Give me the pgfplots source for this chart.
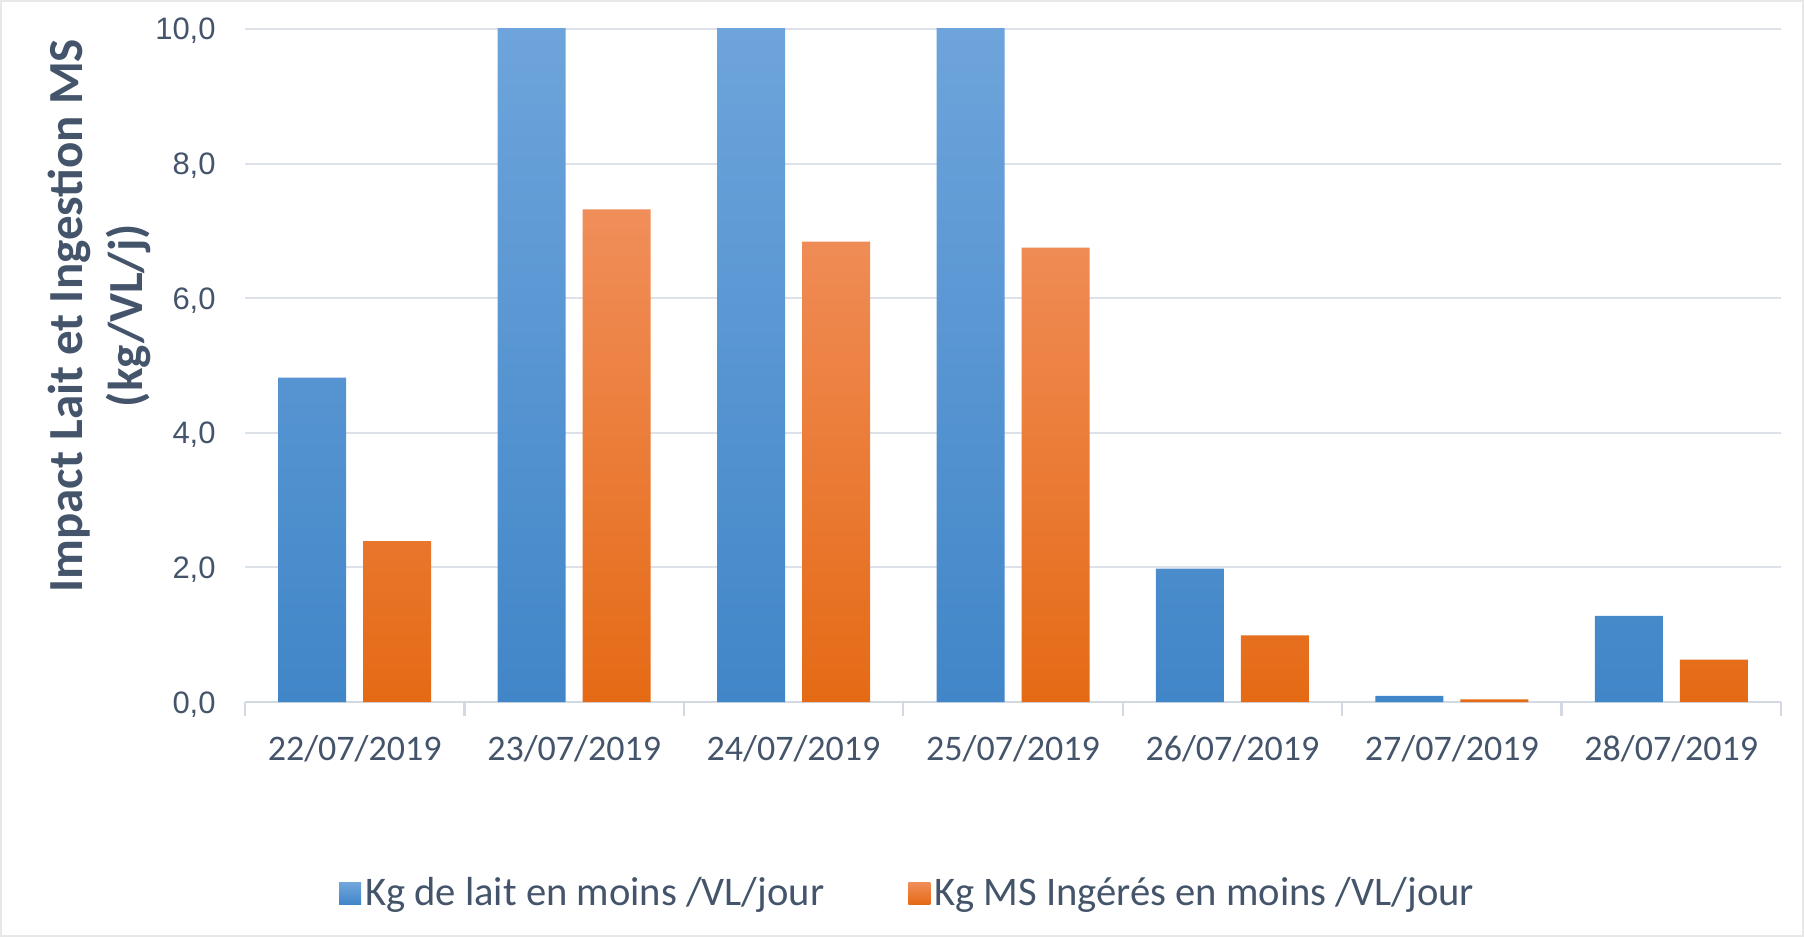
\documentclass[border=0pt]{standalone}
\usepackage{fontspec}
\setmainfont{Carlito}
\newfontfamily\tickfont{Liberation Sans}
\usepackage{pgfplots}
\pgfplotsset{compat=1.18}
\definecolor{txt}{HTML}{44546A}
\definecolor{bluetop}{HTML}{72A7DD}
\definecolor{bluebot}{HTML}{4186C8}
\definecolor{orgtop}{HTML}{F08E5A}
\definecolor{orgbot}{HTML}{E56A15}
\definecolor{gridc}{HTML}{DDE2EA}
\definecolor{axisc}{HTML}{D3D9E2}
\begin{document}
\begin{tikzpicture}
\draw[color=gray!18, line width=1pt] (0.5pt,0.5pt) rectangle (901.5pt,468pt);
\begin{axis}[
  at={(122.5pt,117.5pt)}, anchor=south west,
  scale only axis, width=768pt, height=336.5pt,
  ybar=8.5pt, bar width=34pt,
  xmin=-0.5, xmax=6.5, ymin=0, ymax=10,
  xtick={0,...,6},
  xticklabels={22/07/2019,23/07/2019,24/07/2019,25/07/2019,26/07/2019,27/07/2019,28/07/2019},
  minor xtick={-0.5,0.5,...,6.5},
  major tick length=0pt, minor tick length=7pt, tick align=outside,
  minor x tick style={draw=axisc, line width=1.2pt},
  ytick={0,2,...,10},
  ymajorgrids, grid style={draw=gridc, line width=1pt},
  axis x line*=bottom, axis y line*=left,
  x axis line style={draw=axisc, line width=1.2pt, -},
  y axis line style={draw=none},
  xticklabel style={font=\fontsize{18}{20}\selectfont, text=txt, anchor=base, inner sep=0pt, yshift=-29pt},
  yticklabel style={font=\tickfont\fontsize{15.5}{17}\selectfont, text=txt, anchor=base east, inner sep=0pt, xshift=-14.5pt, yshift=-5.5pt},
  /pgf/number format/.cd, use comma, fixed, fixed zerofill, precision=1, assume math mode=true,
  /pgfplots/.cd,
  ylabel={Impact Lait et Ingestion MS\\(kg/VL/j)},
  ylabel style={at={(axis description cs:-0.095,0.574)}, anchor=center, align=center, font=\bfseries\fontsize{24.5}{30}\selectfont, text=txt},
  legend columns=2,
  legend style={at={(axis description cs:0.432,-0.284)}, anchor=center, draw=none, fill=none, font=\fontsize{20.3}{22}\selectfont, text=txt,
    /tikz/every even column/.append style={column sep=40pt}},
  legend image code/.code={\path[#1] (0pt,-5.5pt) rectangle (11pt,5.5pt);},
]
\addplot[draw=none, top color=bluetop, bottom color=bluebot] coordinates {(0,4.82) (1,11) (2,11) (3,11) (4,1.98) (5,0.09) (6,1.28)};
\addplot[draw=none, top color=orgtop, bottom color=orgbot] coordinates {(0,2.39) (1,7.32) (2,6.84) (3,6.75) (4,0.99) (5,0.04) (6,0.63)};
\legend{Kg de lait en moins /VL/jour, Kg MS Ingérés en moins /VL/jour}
\end{axis}
\end{tikzpicture}
\end{document}
